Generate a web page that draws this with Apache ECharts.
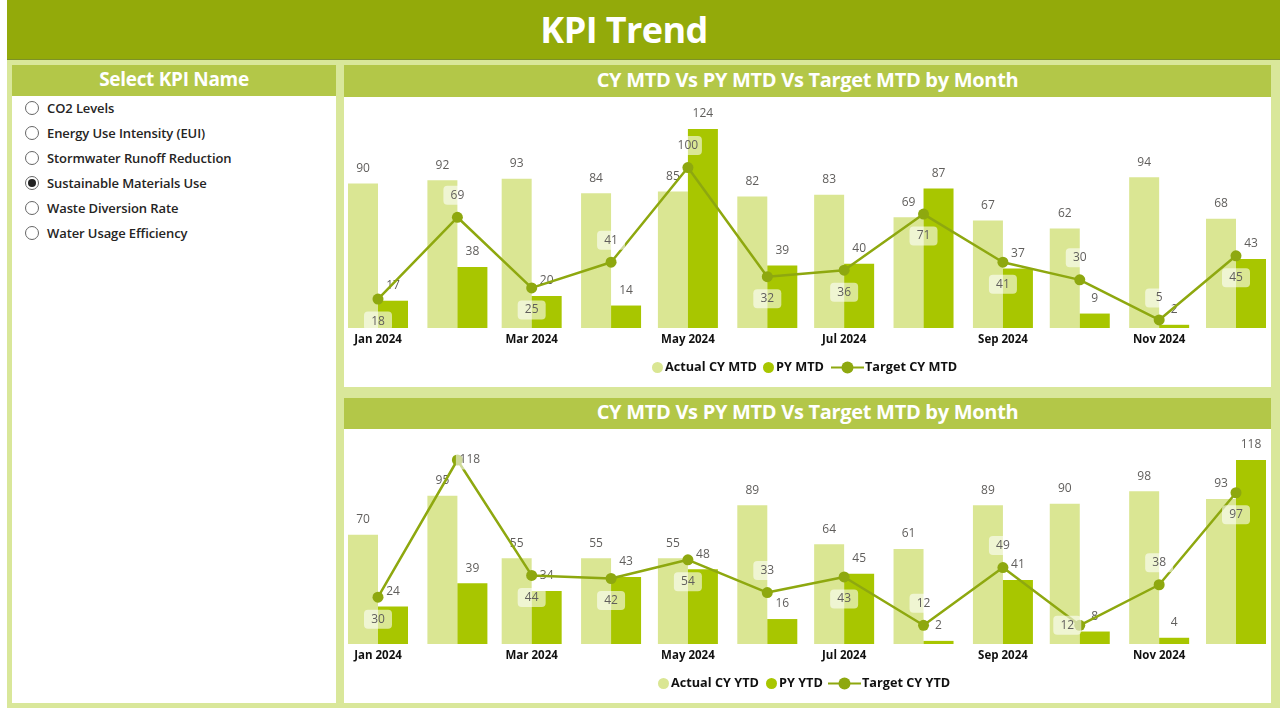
<!DOCTYPE html>
<html>
<head>
    <meta charset="utf-8">
    <title>KPI Trend</title>
    <script src="https://cdn.jsdelivr.net/npm/echarts@6/dist/echarts.min.js"></script>
    <style>
        html, body { margin: 0; padding: 0; width: 1280px; height: 708px; overflow: hidden; background: #fff; font-family: "Open Sans", sans-serif; }
        .box { position: absolute; }
        #page { left: 7px; top: 0; width: 1273px; height: 708px; background: #d9e79a; }
        #header { left: 7px; top: 0; width: 1273px; height: 60px; background: #93aa0a; border-bottom: 1px solid #7d9128; box-sizing: border-box; color: #fff; font-size: 36px; font-weight: 700; line-height: 59px; text-align: center; padding-right: 39px; letter-spacing: -0.6px; }
        .panel { background: #fff; }
        .band { background: #b3c748; color: #fff; font-weight: 700; font-size: 20px; text-align: center; letter-spacing: -0.3px; }
        .opt { left: 47px; font-size: 13px; font-weight: 600; color: #252423; line-height: 16px; white-space: nowrap; letter-spacing: -0.1px; }
        .radio { left: 25px; width: 14px; height: 14px; border: 1px solid #666; border-radius: 50%; box-sizing: border-box; background: #fff; }
        .radio.on::after { content: ""; position: absolute; left: 2px; top: 2px; width: 8px; height: 8px; background: #222; border-radius: 50%; }
    </style>
</head>

<body>
<div class="box" id="page"></div>
<div class="box" id="header">KPI Trend</div>

<div class="box panel" style="left:12px;top:65px;width:324px;height:638px"></div>
<div class="box band" style="left:12px;top:65px;width:324px;height:31px;line-height:29px;font-size:19px">Select KPI Name</div>
<div id="options"></div>

<div class="box panel" style="left:344px;top:65px;width:927px;height:322px"></div>
<div class="box band" style="left:344px;top:65px;width:927px;height:32px;line-height:30px">CY MTD Vs PY MTD Vs Target MTD by Month</div>
<div class="box" id="chartMtd" style="left:344px;top:97px;width:927px;height:290px"></div>

<div class="box panel" style="left:344px;top:398px;width:927px;height:305px"></div>
<div class="box band" style="left:344px;top:398px;width:927px;height:31px;line-height:28px">CY MTD Vs PY MTD Vs Target MTD by Month</div>
<div class="box" id="chartYtd" style="left:344px;top:429px;width:927px;height:273px"></div>

<script type="text/javascript">
    var kpiNames = ['CO2 Levels', 'Energy Use Intensity (EUI)', 'Stormwater Runoff Reduction',
        'Sustainable Materials Use', 'Waste Diversion Rate', 'Water Usage Efficiency'];
    var selectedKpi = 'Sustainable Materials Use';

    var months = ['2024-01-01', '2024-02-01', '2024-03-01', '2024-04-01', '2024-05-01', '2024-06-01',
        '2024-07-01', '2024-08-01', '2024-09-01', '2024-10-01', '2024-11-01', '2024-12-01'];
    var tickMonths = ['2024-01-01', '2024-03-01', '2024-05-01', '2024-07-01', '2024-09-01', '2024-11-01'];
    var tickLabels = ['Jan 2024', 'Mar 2024', 'May 2024', 'Jul 2024', 'Sep 2024', 'Nov 2024'];

    var actualMtd = [90, 92, 93, 84, 85, 82, 83, 69, 67, 62, 94, 68];
    var pyMtd = [17, 38, 20, 14, 124, 39, 40, 87, 37, 9, 2, 43];
    var targetMtd = [18, 69, 25, 41, 100, 32, 36, 71, 41, 30, 5, 45];

    var actualYtd = [70, 95, 55, 55, 55, 89, 64, 61, 89, 90, 98, 93];
    var pyYtd = [24, 39, 34, 43, 48, 16, 45, 2, 41, 8, 4, 118];
    var targetYtd = [30, 118, 44, 42, 54, 33, 43, 12, 49, 12, 38, 97];

    // which side of the point each target label sits on
    var sidesMtd = ['bottom', 'top', 'bottom', 'top', 'top', 'bottom', 'bottom', 'bottom', 'bottom', 'top', 'top', 'bottom'];
    var sidesYtd = ['bottom', 'right', 'bottom', 'bottom', 'bottom', 'top', 'bottom', 'top', 'top', 'left', 'top', 'bottom'];

    // slicer list
    var optionsHtml = '';
    kpiNames.forEach(function (name, i) {
        var y = 108 + i * 25;
        optionsHtml += '<div class="box radio' + (name === selectedKpi ? ' on' : '') + '" style="top:' + (y - 7) + 'px"></div>';
        optionsHtml += '<div class="box opt" style="top:' + (y - 8) + 'px">' + name + '</div>';
    });
    document.getElementById('options').innerHTML = optionsHtml;

    function toTime(s) {
        var p = s.split('-');
        return new Date(+p[0], +p[1] - 1, +p[2]).getTime();
    }

    function drawChart(id, cfg) {
        var chart = echarts.init(document.getElementById(id));
        var labelFont = { fontFamily: 'Open Sans', fontSize: 12, color: '#605e5c' };

        function barSeries(name, values, color) {
            return {
                name: name,
                type: 'bar',
                barWidth: 30,
                barGap: '0%',
                itemStyle: { color: color },
                label: Object.assign({
                    show: true, position: 'top', distance: 9,
                    backgroundColor: 'rgba(255,255,255,0.6)', padding: [0, 2], borderRadius: 3
                }, labelFont),
                data: values.map(function (v, i) { return [toTime(months[i]), v]; })
            };
        }

        var targetData = cfg.target.map(function (v, i) {
            return { value: [toTime(months[i]), v], label: { position: cfg.sides[i] } };
        });

        chart.setOption({
            animation: false,
            grid: { left: 4, right: 5, top: cfg.top, bottom: cfg.bottom },
            xAxis: {
                type: 'time',
                // the time axis widens itself by half a bar pair on both sides
                min: toTime(months[0]),
                max: toTime(months[11]),
                splitNumber: 12,
                axisLine: { show: false },
                axisTick: { show: false },
                splitLine: { show: false },
                axisLabel: {
                    margin: 6,
                    fontFamily: 'Open Sans',
                    fontSize: 11.5,
                    fontWeight: 700,
                    color: '#111',
                    hideOverlap: false,
                    formatter: function (v) {
                        var at = tickMonths.map(toTime).indexOf(+v);
                        return at < 0 ? '' : tickLabels[at];
                    }
                }
            },
            yAxis: { type: 'value', min: 0, max: cfg.yMax, show: false },
            legend: cfg.names.map(function (name, i) {
                var isLine = i === 2;
                return {
                    data: [name],
                    selectedMode: false,
                    left: cfg.legendLeft[i],
                    top: cfg.legendTop,
                    padding: 0,
                    itemWidth: isLine ? 33 : 11,
                    itemHeight: isLine ? 15 : 11,
                    icon: isLine ? undefined : 'circle',
                    textStyle: { fontFamily: 'Open Sans', fontSize: 12.7, fontWeight: 700, color: '#111', padding: [0, 0, 0, isLine ? -4 : -3] }
                };
            }),
            series: [
                barSeries(cfg.names[0], cfg.actual, '#dae693'),
                barSeries(cfg.names[1], cfg.py, '#a8c600'),
                {
                    name: cfg.names[2],
                    type: 'line',
                    symbol: 'circle',
                    symbolSize: 11,
                    lineStyle: { color: '#8ea80f', width: 2.5 },
                    itemStyle: { color: '#8ea80f' },
                    label: Object.assign({
                        show: true, distance: 7,
                        backgroundColor: 'rgba(255,255,255,0.58)',
                        width: 28, height: 19, lineHeight: 19, align: 'center', borderRadius: 4
                    }, labelFont),
                    data: targetData
                }
            ]
        });
    }

    drawChart('chartMtd', {
        actual: actualMtd, py: pyMtd, target: targetMtd, sides: sidesMtd,
        names: ['Actual CY MTD', 'PY MTD', 'Target CY MTD'],
        yMax: 124, top: 32, bottom: 59,
        legendLeft: [308, 419, 486], legendTop: 264
    });

    drawChart('chartYtd', {
        actual: actualYtd, py: pyYtd, target: targetYtd, sides: sidesYtd,
        names: ['Actual CY YTD', 'PY YTD', 'Target CY YTD'],
        yMax: 118, top: 31, bottom: 58,
        legendLeft: [314, 422, 483], legendTop: 248
    });
</script>
</body>
</html>
